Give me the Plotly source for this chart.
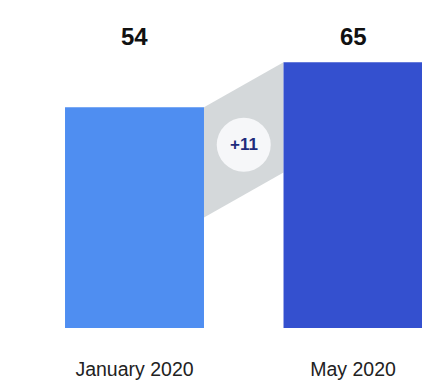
import plotly.graph_objects as go

# Share of respondents, two survey waves
categories = ["January 2020", "May 2020"]
values = [54, 65]
bar_colors = ["#4f8ef1", "#3450cf"]

positions = list(range(len(categories)))
bar_width = 0.636
change = values[1] - values[0]

fig = go.Figure()

fig.add_trace(go.Bar(
    x=positions,
    y=values,
    width=bar_width,
    marker=dict(color=bar_colors, line=dict(width=0)),
    hoverinfo="skip",
    showlegend=False,
))

# Grey connector band between the two bars
half = values[0] / 2
x_left = positions[0] + bar_width / 2
x_right = positions[1] - bar_width / 2
path = (f"M {x_left},{values[0]} L {x_right},{values[1]} "
        f"L {x_right},{values[1] - half} L {x_left},{values[0] - half} Z")
fig.add_shape(type="path", path=path, xref="x", yref="y",
              fillcolor="#d4d8da", line=dict(width=0), layer="below")

# Circle badge with the change
mid_x = (x_left + x_right) / 2
mid_y = (values[0] + values[1]) / 2 - half / 2 - 1.2
fig.add_shape(type="circle", xref="x", yref="y",
              xsizemode="pixel", ysizemode="pixel",
              xanchor=mid_x, yanchor=mid_y,
              x0=-27, x1=27, y0=-27, y1=27,
              fillcolor="#f6f7f9", line=dict(width=0))
fig.add_annotation(x=mid_x, y=mid_y, xref="x", yref="y",
                   text=f"<b>{change:+d}</b>", showarrow=False,
                   font=dict(family="Liberation Sans, Arial", size=17, color="#1f2b7c"))

# Value labels along the top
for p, v in zip(positions, values):
    fig.add_annotation(x=p, y=0.889, xref="x", yref="paper",
                       yanchor="middle",
                       text=f"<b>{v}</b>", showarrow=False,
                       font=dict(family="Liberation Sans, Arial", size=24, color="#111111"))

fig.update_layout(
    width=422, height=383,
    margin=dict(l=0, r=0, t=0, b=55),
    paper_bgcolor="white",
    plot_bgcolor="white",
    xaxis=dict(
        range=[-0.6156, 1.3158],
        tickvals=positions,
        ticktext=categories,
        showgrid=False, zeroline=False, showline=False,
        ticks="",
        ticklabelstandoff=27,
        tickfont=dict(family="Liberation Sans, Arial", size=19.5, color="#222222"),
        fixedrange=True,
    ),
    yaxis=dict(
        range=[0, 80.2],
        visible=False,
        fixedrange=True,
    ),
)

fig.write_html("out.html")
